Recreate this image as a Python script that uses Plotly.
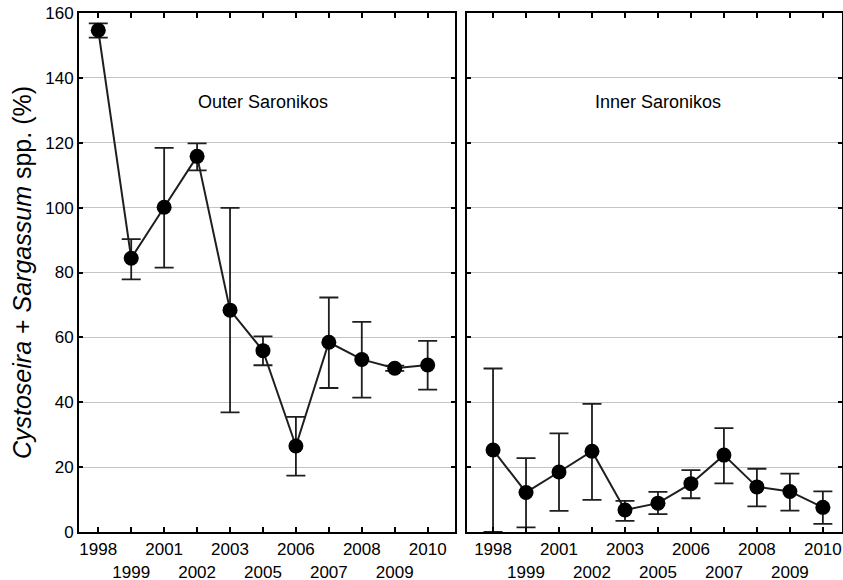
import plotly.graph_objects as go

years = ["1998", "1999", "2001", "2002", "2003", "2005", "2006", "2007", "2008", "2009", "2010"]

outer_mean = [154.7, 84.4, 100.1, 115.8, 68.4, 55.9, 26.5, 58.5, 53.2, 50.5, 51.5]
outer_upper = [156.8, 90.3, 118.4, 119.8, 99.9, 60.3, 35.5, 72.3, 64.8, 51.3, 58.9]
outer_lower = [152.4, 77.9, 81.5, 111.5, 36.9, 51.4, 17.4, 44.4, 41.4, 49.7, 43.9]

inner_mean = [25.3, 12.2, 18.5, 24.9, 6.8, 8.9, 14.9, 23.7, 13.9, 12.5, 7.6]
inner_upper = [50.4, 22.8, 30.4, 39.5, 9.6, 12.4, 19.1, 32.0, 19.5, 18.0, 12.5]
inner_lower = [0.0, 1.4, 6.5, 9.9, 3.4, 5.5, 10.4, 15.0, 7.9, 6.6, 2.5]

y_ticks = [0, 20, 40, 60, 80, 100, 120, 140, 160]
panel_titles = ["Outer Saronikos", "Inner Saronikos"]

ticktext = [y if i % 2 == 0 else "<br>" + y for i, y in enumerate(years)]

FONT = "Liberation Sans, Arial, sans-serif"
LINE_COLOR = "#1e1e1e"

fig = go.Figure()


def add_series(mean, upper, lower, xa, ya):
    fig.add_trace(go.Scatter(
        x=years, y=mean, xaxis=xa, yaxis=ya,
        mode="lines+markers",
        line=dict(color=LINE_COLOR, width=2),
        marker=dict(color="black", size=15),
        error_y=dict(
            type="data", symmetric=False,
            array=[u - m for u, m in zip(upper, mean)],
            arrayminus=[m - l for m, l in zip(mean, lower)],
            color=LINE_COLOR, thickness=1.8, width=9.5,
        ),
        showlegend=False,
        cliponaxis=False,
    ))


add_series(outer_mean, outer_upper, outer_lower, "x", "y")
add_series(inner_mean, inner_upper, inner_lower, "x2", "y2")

xcommon = dict(
    type="category", tickmode="array", tickvals=years, ticktext=ticktext,
    tickangle=0, ticklabelstandoff=1, automargin=False,
    showline=True, linecolor="black", linewidth=2, mirror="ticks",
    ticks="inside", ticklen=5, tickcolor="black", tickwidth=1.5,
    showgrid=False, zeroline=False,
    tickfont=dict(family=FONT, size=17, color="black"),
)
ycommon = dict(
    range=[0, 160], tickvals=y_ticks, automargin=False,
    showline=True, linecolor="black", linewidth=2, mirror="ticks",
    ticks="inside", ticklen=4, tickcolor="black", tickwidth=1.5,
    showgrid=True, gridcolor="#c4c4c4", gridwidth=1.2, zeroline=False,
    tickfont=dict(family=FONT, size=17, color="black"),
)

fig.update_layout(
    width=843, height=580,
    margin=dict(l=79, r=1, t=13, b=48),
    plot_bgcolor="white", paper_bgcolor="white",
    xaxis=dict(domain=[0, 0.4928], range=[-0.585, 10.83], anchor="y", **xcommon),
    xaxis2=dict(domain=[0.5085, 1.0], range=[-0.79, 10.58], anchor="y2", **xcommon),
    yaxis=dict(anchor="x",
               title=dict(text="<i>Cystoseira</i> + <i>Sargassum</i> spp. (%)",
                          font=dict(family=FONT, size=25, color="black"), standoff=6),
               **ycommon),
    yaxis2=dict(anchor="x2", showticklabels=False, **ycommon),
    annotations=[
        dict(text=panel_titles[0], xref="x domain", yref="y", x=0.49, y=132.6,
             showarrow=False, font=dict(family=FONT, size=18, color="black")),
        dict(text=panel_titles[1], xref="x2 domain", yref="y2", x=0.51, y=132.6,
             showarrow=False, font=dict(family=FONT, size=18, color="black")),
    ],
)

fig.write_html("out.html")
